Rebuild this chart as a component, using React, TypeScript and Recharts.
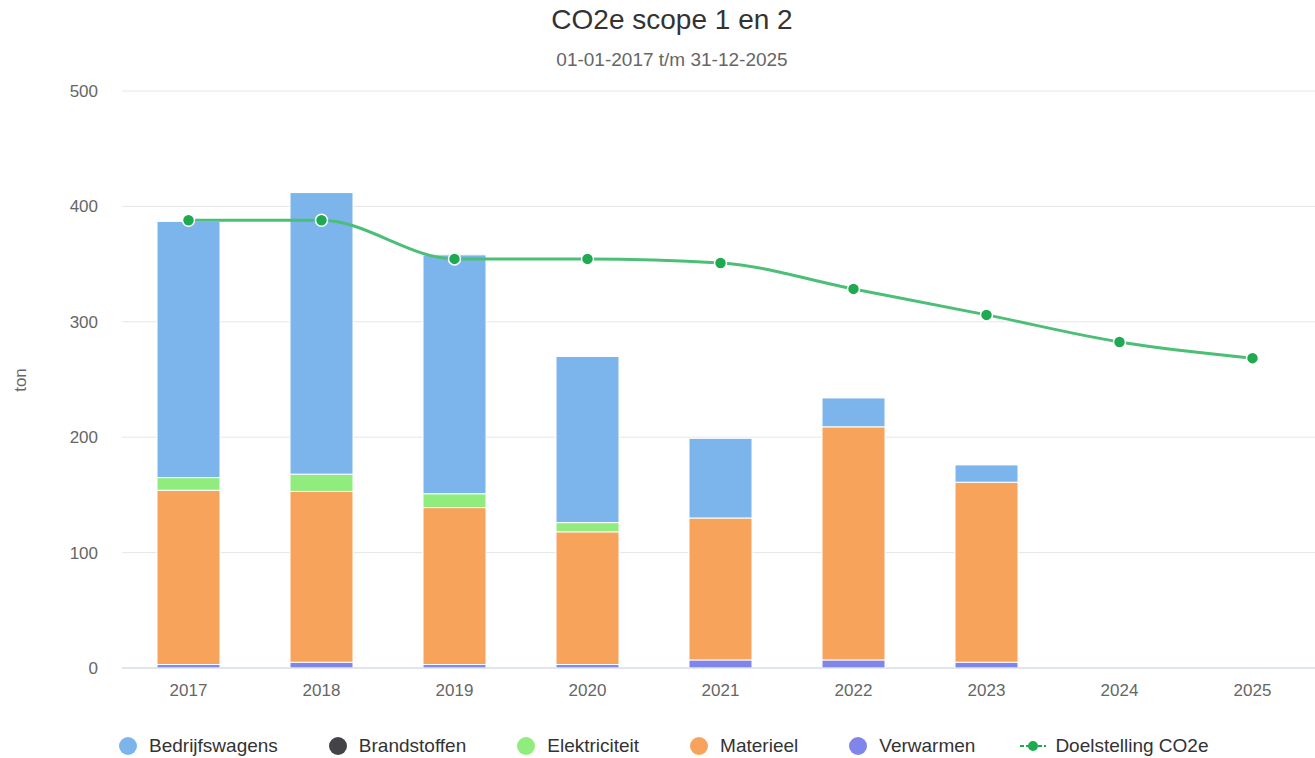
import {
  ComposedChart,
  Bar,
  Line,
  XAxis,
  YAxis,
  CartesianGrid,
} from 'recharts';

const years = ['2017', '2018', '2019', '2020', '2021', '2022', '2023', '2024', '2025'];
const verwarmen = [3, 5, 3, 3, 7, 7, 5, null, null];
const materieel = [151, 148, 136, 115, 123, 202, 156, null, null];
const elektriciteit = [11, 15, 12, 8, null, null, null, null, null];
const brandstoffen = [null, null, null, null, null, null, null, null, null];
const bedrijfswagens = [222, 244, 207, 144, 69, 25, 15, null, null];
const doelstelling = [388, 388, 354.5, 354.5, 351, 328.5, 306, 282.5, 268.5];
const yTicks = [0, 100, 200, 300, 400, 500];

const data = years.map((year, i) => ({
  year,
  verwarmen: verwarmen[i],
  materieel: materieel[i],
  elektriciteit: elektriciteit[i],
  brandstoffen: brandstoffen[i],
  bedrijfswagens: bedrijfswagens[i],
  doelstelling: doelstelling[i],
}));

const FONT = '"Liberation Sans", Arial, Helvetica, sans-serif';

const legendItems = [
  { name: 'Bedrijfswagens', color: '#7cb5ec' },
  { name: 'Brandstoffen', color: '#434348' },
  { name: 'Elektriciteit', color: '#90ed7d' },
  { name: 'Materieel', color: '#f7a35c' },
  { name: 'Verwarmen', color: '#8085e9' },
];

export default function App() {
  return (
    <div
      style={{
        position: 'absolute',
        left: 0,
        top: 0,
        width: 1315,
        height: 758,
        overflow: 'hidden',
        background: '#fff',
        fontFamily: FONT,
      }}
    >
      <div style={{ position: 'absolute', left: 0, width: 1344, top: 5, textAlign: 'center', fontSize: 28, lineHeight: '30px', color: '#333' }}>
        CO2e scope 1 en 2
      </div>
      <div style={{ position: 'absolute', left: 0, width: 1344, top: 50, textAlign: 'center', fontSize: 19, lineHeight: '20px', color: '#666' }}>
        01-01-2017 t/m 31-12-2025
      </div>
      <div
        style={{
          position: 'absolute',
          left: 21,
          top: 380,
          transform: 'translate(-50%, -50%) rotate(-90deg)',
          fontSize: 17,
          color: '#666',
        }}
      >
        ton
      </div>

      <div style={{ position: 'absolute', left: 0, top: 0 }}>
        <ComposedChart
          width={1319}
          height={758}
          data={data}
          margin={{ top: 91, right: 0, bottom: 50, left: 0 }}
        >
          <CartesianGrid vertical={false} stroke="#e6e6e6" />
          <XAxis
            dataKey="year"
            height={40}
            tickSize={0}
            tickMargin={16}
            axisLine={{ stroke: '#ccd6eb' }}
            tick={{ fill: '#666', fontSize: 17, fontFamily: FONT }}
          />
          <YAxis
            width={122}
            domain={[0, 500]}
            ticks={yTicks}
            axisLine={false}
            tickLine={false}
            tickSize={0}
            tickMargin={24}
            tick={{ fill: '#666', fontSize: 17, fontFamily: FONT }}
          />
          <Bar dataKey="verwarmen" stackId="a" fill="#8085e9" stroke="#fff" strokeWidth={1} barSize={63} isAnimationActive={false} />
          <Bar dataKey="materieel" stackId="a" fill="#f7a35c" stroke="#fff" strokeWidth={1} barSize={63} isAnimationActive={false} />
          <Bar dataKey="elektriciteit" stackId="a" fill="#90ed7d" stroke="#fff" strokeWidth={1} barSize={63} isAnimationActive={false} />
          <Bar dataKey="brandstoffen" stackId="a" fill="#434348" stroke="#fff" strokeWidth={1} barSize={63} isAnimationActive={false} />
          <Bar dataKey="bedrijfswagens" stackId="a" fill="#7cb5ec" stroke="#fff" strokeWidth={1} barSize={63} isAnimationActive={false} />
          <Line
            type="monotone"
            dataKey="doelstelling"
            stroke="#4cbf76"
            strokeWidth={3}
            dot={{ r: 6, fill: '#1faa52', stroke: '#fff', strokeWidth: 1.5 }}
            isAnimationActive={false}
          />
        </ComposedChart>
      </div>

      <div
        style={{
          position: 'absolute',
          left: 119,
          top: 735,
          height: 22,
          display: 'flex',
          alignItems: 'center',
          fontSize: 19,
          color: '#333',
          whiteSpace: 'nowrap',
        }}
      >
        {legendItems.map((item) => (
          <div key={item.name} style={{ display: 'flex', alignItems: 'center', marginRight: 51 }}>
            <span
              style={{
                display: 'inline-block',
                width: 18,
                height: 18,
                borderRadius: 9,
                background: item.color,
                marginRight: 12,
              }}
            />
            <span>{item.name}</span>
          </div>
        ))}
        <div style={{ display: 'flex', alignItems: 'center', marginLeft: -6 }}>
          <svg width={26} height={14} style={{ marginRight: 9 }}>
            <line x1={0} y1={7} x2={26} y2={7} stroke="#1faa52" strokeWidth={2} strokeDasharray="4 2" />
            <circle cx={13} cy={7} r={5} fill="#1faa52" />
          </svg>
          <span>Doelstelling CO2e</span>
        </div>
      </div>
    </div>
  );
}
